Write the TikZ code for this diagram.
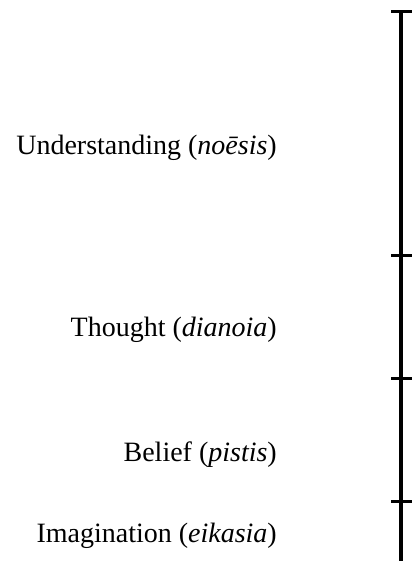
\documentclass[tikz,border=0pt]{standalone}
\usepackage{fontspec}
\setmainfont{Liberation Serif}
\tikzset{
  stage/.style={anchor=base east, inner sep=0pt, font=\fontsize{28}{32}\selectfont},
  axis/.style={draw=black, line width=4.6pt},
  tickmark/.style={draw=black, line width=3pt}
}
\begin{document}
\begin{tikzpicture}[x=1pt,y=1pt]
  \useasboundingbox (0,0) rectangle (414,561);

  % Divided line
  \coordinate (top) at (401,549.5);
  \coordinate (cut1) at (401,305);
  \coordinate (cut2) at (401,182);
  \coordinate (cut3) at (401,59.5);
  \coordinate (bottom) at (401,0);
  \draw[axis] (top) -- (bottom);
  \foreach \c in {top,cut1,cut2,cut3}
    \draw[tickmark] ([xshift=-10pt]\c) -- ([xshift=11pt]\c);

  % Sections
  \node[stage] (noesis) at (277,406) {Understanding (\textit{noēsis})};
  \node[stage] (dianoia) at (277,224) {Thought (\textit{dianoia})};
  \node[stage] (pistis) at (277,99) {Belief (\textit{pistis})};
  \node[stage] (eikasia) at (277,18) {Imagination (\textit{eikasia})};
\end{tikzpicture}
\end{document}
